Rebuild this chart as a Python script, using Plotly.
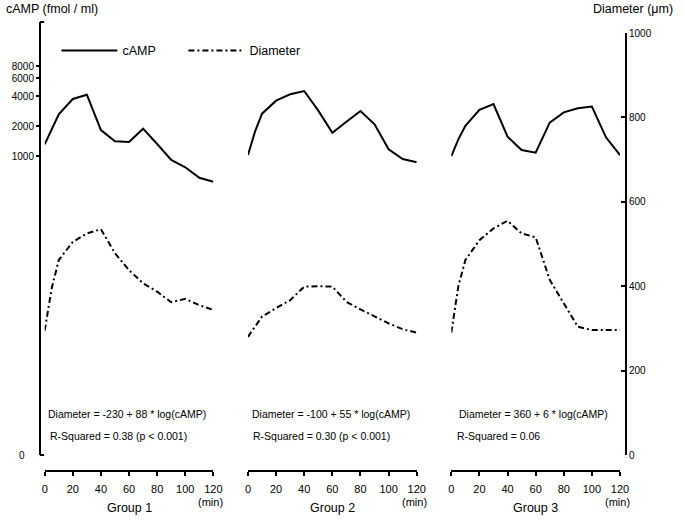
import plotly.graph_objects as go

# ---- data ----
groups = ["Group 1", "Group 2", "Group 3"]

t_camp_1 = [0, 10, 20, 30, 40, 50, 60, 70, 80, 90, 100, 110, 120]
camp_1 = [1310, 2620, 3735, 4120, 1823, 1404, 1381, 1880, 1319, 912, 771, 605, 552]
t_camp_2 = [0, 5, 10, 20, 30, 40, 50, 60, 70, 80, 90, 100, 110, 120]
camp_2 = [1023, 1754, 2660, 3590, 4160, 4490, 2850, 1713, 2210, 2830, 2080, 1167, 933, 864]
t_camp_3 = [0, 5, 10, 20, 30, 40, 50, 60, 70, 80, 90, 100, 110, 120]
camp_3 = [1000, 1470, 2010, 2900, 3325, 1563, 1149, 1080, 2160, 2740, 3010, 3130, 1541, 1023]

t_diam_1 = [0, 5, 10, 20, 30, 40, 50, 60, 70, 80, 90, 100, 110, 120]
diam_1 = [295, 395, 462, 505, 525, 535, 478, 438, 407, 387, 362, 370, 355, 344]
t_diam_2 = [0, 10, 20, 30, 40, 50, 60, 70, 80, 90, 100, 110, 120]
diam_2 = [280, 328, 348, 367, 399, 400, 399, 363, 345, 328, 312, 298, 290]
t_diam_3 = [0, 5, 10, 20, 30, 40, 50, 60, 70, 80, 90, 100, 110, 120]
diam_3 = [290, 400, 462, 509, 537, 555, 525, 516, 415, 359, 304, 296, 296, 296]

equations = ["Diameter = -230 + 88 * log(cAMP)",
             "Diameter = -100 + 55 * log(cAMP)",
             "Diameter = 360 + 6 * log(cAMP)"]
rsquared = ["R-Squared = 0.38 (p < 0.001)",
            "R-Squared = 0.30 (p < 0.001)",
            "R-Squared = 0.06"]

x_ticks = [0, 20, 40, 60, 80, 100, 120]
camp_ticks = [1000, 2000, 4000, 6000, 8000]
diam_ticks = [0, 200, 400, 600, 800, 1000]

camp_t = [t_camp_1, t_camp_2, t_camp_3]
camp_v = [camp_1, camp_2, camp_3]
diam_t = [t_diam_1, t_diam_2, t_diam_3]
diam_v = [diam_1, diam_2, diam_3]

FONT = "Arial, Liberation Sans, Helvetica, sans-serif"
DASHDOT = "6px,3px,2px,3px"

fig = go.Figure()
xids = ["x", "x2", "x3"]
for i in range(3):
    fig.add_trace(go.Scatter(
        x=camp_t[i], y=camp_v[i], xaxis=xids[i], yaxis="y2",
        mode="lines", line=dict(color="black", width=2),
        name="cAMP", legendgroup="camp", showlegend=(i == 0)))
    fig.add_trace(go.Scatter(
        x=diam_t[i], y=diam_v[i], xaxis=xids[i], yaxis="y",
        mode="lines", line=dict(color="black", width=2, dash=DASHDOT),
        name="Diameter", legendgroup="diam", showlegend=(i == 0)))

y_dom = [0.0356, 0.9755]
x_domains = [[0.008, 0.2959], [0.3549, 0.6429], [0.7019, 0.9898]]

layout = dict(
    width=685, height=520,
    margin=dict(l=38, r=59, t=22, b=49),
    paper_bgcolor="white", plot_bgcolor="rgba(0,0,0,0)",
    font=dict(family=FONT, color="black", size=11),
    legend=dict(orientation="h", x=0.028, y=0.969, xanchor="left", yanchor="top",
                font=dict(size=12.5), entrywidth=56, itemwidth=56,
                bgcolor="rgba(0,0,0,0)"),
    yaxis=dict(domain=y_dom, range=[0, 1000], side="right", anchor="free", position=1.0,
               showline=True, linewidth=2, linecolor="black", ticks="inside", ticklen=4,
               tickwidth=1.5, tickcolor="black", tickvals=diam_ticks, showgrid=False,
               zeroline=False, tickfont=dict(size=10)),
    yaxis2=dict(domain=[0.0356, 1.0], type="log", range=[0, 4.3446], side="left",
                anchor="free", position=0.0, showline=True, linewidth=2, linecolor="black",
                ticks="outside", ticklen=3, tickwidth=1.5, tickcolor="black",
                tickvals=camp_ticks, showgrid=False, zeroline=False,
                tickfont=dict(size=10)),
)
for i in range(3):
    key = "xaxis" if i == 0 else f"xaxis{i+1}"
    layout[key] = dict(domain=x_domains[i], range=[0, 120], anchor="free", position=0,
                       showline=True, linewidth=2, linecolor="black", ticks="outside",
                       ticklen=4, tickwidth=1.5, tickcolor="black", tickvals=x_ticks,
                       ticklabelstandoff=4,
                       showgrid=False, zeroline=False, tickfont=dict(size=11))
fig.update_layout(**layout)

ann = []
for i in range(3):
    xr = "x domain" if i == 0 else f"x{i+1} domain"
    ann.append(dict(text=groups[i], xref=xr, yref="paper", x=0.5, y=-0.083,
                    showarrow=False, font=dict(size=12.5), xanchor="center", yanchor="middle"))
    ann.append(dict(text="(min)", xref=xr, yref="paper", x=0.985, y=-0.07,
                    showarrow=False, font=dict(size=11), xanchor="center", yanchor="middle"))
    ann.append(dict(text=equations[i], xref=xr, yref="paper", x=0.49, y=0.126,
                    showarrow=False, font=dict(size=10.5), xanchor="center", yanchor="middle"))
    ann.append(dict(text=rsquared[i], xref=xr, yref="paper", x=0.02, y=0.078,
                    showarrow=False, font=dict(size=10.5), xanchor="left", yanchor="middle"))
ann.append(dict(text="cAMP (fmol / ml)", xref="paper", yref="paper", x=-0.062, y=1.03,
                showarrow=False, font=dict(size=12.5), xanchor="left", yanchor="middle"))
ann.append(dict(text="Diameter (μm)", xref="paper", yref="paper", x=1.083, y=1.028,
                showarrow=False, font=dict(size=12.5), xanchor="right", yanchor="middle"))
ann.append(dict(text="0", xref="paper", yref="paper", x=-0.03, y=0.0356,
                showarrow=False, font=dict(size=10), xanchor="center", yanchor="middle"))
fig.update_layout(annotations=ann)

# small end caps on the left axis
fig.add_shape(type="line", xref="paper", yref="paper", x0=0, x1=0.007, y0=1.0, y1=1.0,
              line=dict(color="black", width=2))
fig.add_shape(type="line", xref="paper", yref="paper", x0=0, x1=0.007, y0=0.0356, y1=0.0356,
              line=dict(color="black", width=2))

fig.write_html("out.html", post_script="document.body.style.margin='0';",
               config={"displayModeBar": False})
